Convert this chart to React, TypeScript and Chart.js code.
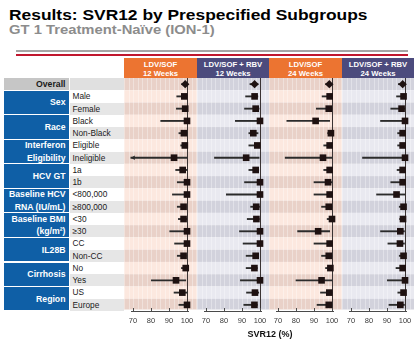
import React, { useEffect, useRef } from 'react';
import { Chart, registerables } from 'chart.js';

Chart.register(...registerables);

// ---------------- data ----------------
const rowLabels = [
  'Overall', 'Male', 'Female', 'Black', 'Non-Black', 'Eligible', 'Ineligible',
  '1a', '1b', '<800,000', '≥800,000', '<30', '≥30', 'CC', 'Non-CC', 'No', 'Yes', 'US', 'Europe',
];

const groupLabels = [
  'Sex', 'Race', 'Interferon\nEligibility', 'HCV GT', 'Baseline HCV\nRNA (IU/mL)',
  'Baseline BMI\n(kg/m²)', 'IL28B', 'Cirrhosis', 'Region',
];
const groupSizes = [2, 2, 2, 2, 2, 2, 2, 2, 2];

const panelTitles = [
  ['LDV/SOF', '12 Weeks'],
  ['LDV/SOF + RBV', '12 Weeks'],
  ['LDV/SOF', '24 Weeks'],
  ['LDV/SOF + RBV', '24 Weeks'],
];

const xTicks = [70, 80, 90, 100];
const referenceValue = 100;

// LDV/SOF 12 weeks
const ldvSof12Svr = [99, 98.5, 99, 100, 98.3, 98.8, 92.8, 97.6, 100, 100, 98.1, 98.1, 100, 100, 98.1, 99.3, 93.9, 97.4, 100];
const ldvSof12Lo = [97, 94.3, 94.1, 85.4, 95.5, 96.5, 68.8, 93.7, 94.6, 91.9, 94.6, 95.2, 90.4, 93.1, 94.6, 96.9, 80.2, 92.8, 95.5];
const ldvSof12Hi = [100, 100, 100, 100, 100, 100, 100, 100, 100, 100, 99.4, 99.8, 100, 100, 99.5, 100, 99.3, 100, 100];

// LDV/SOF + RBV 12 weeks
const ldvSofRbv12Svr = [97, 97, 97.6, 100, 96.3, 98.5, 92.3, 97.6, 100, 100, 97.9, 98, 100, 100, 97.6, 96.9, 100, 97.2, 96.9];
const ldvSofRbv12Lo = [94.4, 92, 91.4, 86.3, 93.8, 93.8, 74.7, 93.8, 91.4, 81.3, 94.8, 92.9, 88.6, 90.6, 92.3, 92.3, 89.1, 92.5, 91];
const ldvSofRbv12Hi = [98.9, 98.8, 99.5, 100, 98.9, 100, 99.5, 99.3, 100, 100, 99.7, 99.6, 100, 100, 99, 98.5, 100, 99.3, 98.5];

// LDV/SOF 24 weeks
const ldvSof24Svr = [98.5, 98.7, 98.2, 90.9, 99.4, 98.7, 95, 98.7, 97.8, 98.7, 98.2, 100, 92.3, 98.7, 98.2, 99.1, 94.2, 98.5, 98.2];
const ldvSof24Lo = [96.4, 94.5, 91.3, 74.9, 97.6, 95.4, 74, 95.4, 90, 90, 94.2, 97.3, 80.9, 90, 94.2, 96.4, 80, 93.6, 91.7];
const ldvSof24Hi = [100, 100, 100, 98.7, 100, 100, 100, 100, 100, 100, 100, 100, 98.7, 100, 100, 100, 100, 100, 100];

// LDV/SOF + RBV 24 weeks
const ldvSofRbv24Svr = [98.7, 99.2, 98.1, 100, 98.7, 98.7, 100, 98.7, 98.7, 95.3, 99.2, 98.9, 97.4, 97.2, 99.2, 98.7, 100, 99.2, 97.4];
const ldvSofRbv24Lo = [96.3, 95.3, 92.1, 86.4, 95.9, 95.9, 76.4, 95.6, 92.1, 84.2, 96.8, 97, 86.4, 90.5, 96.8, 95, 90.2, 96, 91.1];
const ldvSofRbv24Hi = [99.7, 100, 100, 100, 100, 100, 100, 100, 100, 100, 100, 100, 99.7, 99.7, 100, 100, 100, 100, 99.7];

const panelSeries = [
  { svr: ldvSof12Svr, lo: ldvSof12Lo, hi: ldvSof12Hi },
  { svr: ldvSofRbv12Svr, lo: ldvSofRbv12Lo, hi: ldvSofRbv12Hi },
  { svr: ldvSof24Svr, lo: ldvSof24Lo, hi: ldvSof24Hi },
  { svr: ldvSofRbv24Svr, lo: ldvSofRbv24Lo, hi: ldvSofRbv24Hi },
];

// ---------------- style / layout ----------------
const FONT = '"Liberation Sans", Arial, Helvetica, sans-serif';
const TOP = 78;
const AREA_H = 233;
const RH = AREA_H / rowLabels.length;
const X_MIN = 69;
const X_MAX = 101;
const PX_PER_UNIT = 1.8;
const PAD_L = 7.2;
const panelLefts = [124, 197, 269, 342];
const panelWidths = [73, 72, 73, 72];
const headerColors = ['#ec7431', '#4c4b7d', '#ec7431', '#4c4b7d'];
const orangeBands = ['#e9d1c8', '#fce8df'];
const purpleBands = ['#d2d2dc', '#e9e9f0'];
const BLUE = '#0f5fa6';
const MARK = '#1e1111';

function Panel({ index }: { index: number }) {
  const ref = useRef<HTMLCanvasElement>(null);
  const width = panelWidths[index];
  useEffect(() => {
    const canvas = ref.current;
    if (!canvas) return;
    const series = panelSeries[index];
    const bands = index % 2 === 0 ? orangeBands : purpleBands;
    const areaW = (X_MAX - X_MIN) * PX_PER_UNIT;
    const padR = width - PAD_L - areaW;

    const bgPlugin = {
      id: 'panelBg',
      beforeDraw(chart: any) {
        const { ctx, chartArea, scales } = chart;
        const y = scales.y;
        const x = scales.x;
        const step = y.getPixelForValue(1) - y.getPixelForValue(0);
        const bandBottom = chartArea.bottom - 1.5;
        ctx.save();
        rowLabels.forEach((_, i) => {
          const c = y.getPixelForValue(i);
          const t = c - step / 2;
          const b = Math.min(c + step / 2, bandBottom);
          ctx.fillStyle = i % 2 === 0 ? bands[0] : bands[1];
          ctx.fillRect(0, t, chart.width, b - t);
        });
        // faint texture grid
        ctx.strokeStyle = 'rgba(255,255,255,0.35)';
        ctx.lineWidth = 1;
        for (let v = 62.5; v <= 108; v += 2.5) {
          const px = Math.round(x.getPixelForValue(v)) + 0.5;
          if (px < 0 || px > chart.width) continue;
          ctx.beginPath();
          ctx.moveTo(px, chartArea.top);
          ctx.lineTo(px, bandBottom);
          ctx.stroke();
        }
        // reference line
        const rx = Math.round(x.getPixelForValue(referenceValue)) + 0.5;
        ctx.strokeStyle = '#3a3333';
        ctx.lineWidth = 1;
        ctx.beginPath();
        ctx.moveTo(rx, chartArea.top);
        ctx.lineTo(rx, chartArea.bottom);
        ctx.stroke();
        ctx.restore();
      },
      afterDatasetsDraw(chart: any) {
        const { ctx, scales } = chart;
        const y = scales.y;
        const x = scales.x;
        ctx.save();
        ctx.fillStyle = '#2b2b2b';
        series.lo.forEach((l, i) => {
          if (l >= xTicks[0]) return;
          const px = x.getPixelForValue(l);
          const py = y.getPixelForValue(i);
          ctx.beginPath();
          ctx.moveTo(px, py);
          ctx.lineTo(px + 4, py - 2.2);
          ctx.lineTo(px + 4, py + 2.2);
          ctx.closePath();
          ctx.fill();
        });
        ctx.restore();
      },
    };

    const chart = new Chart(canvas, {
      type: 'bar',
      data: {
        labels: rowLabels,
        datasets: [
          {
            type: 'bar',
            data: series.lo.map((l, i) => [l, series.hi[i]]),
            backgroundColor: '#2b2b2b',
            borderWidth: 0,
            barThickness: 1.2,
            clip: false,
            order: 2,
          } as any,
          {
            type: 'scatter',
            data: series.svr.map((v, i) => ({ x: v, y: rowLabels[i] })),
            pointStyle: rowLabels.map((_, i) => (i === 0 ? 'rectRot' : 'rect')),
            pointRadius: rowLabels.map((_, i) => (i === 0 ? 4.2 : 4.7)),
            backgroundColor: MARK,
            borderColor: MARK,
            borderWidth: 0,
            clip: false,
            order: 1,
          } as any,
        ],
      },
      options: {
        indexAxis: 'y',
        animation: false,
        responsive: true,
        maintainAspectRatio: false,
        events: [],
        layout: { autoPadding: false, padding: { left: PAD_L, right: padR, top: 0, bottom: 0 } },
        plugins: { legend: { display: false }, tooltip: { enabled: false } },
        scales: {
          x: {
            type: 'linear',
            position: 'bottom',
            min: X_MIN,
            max: X_MAX,
            afterBuildTicks: (s: any) => {
              s.ticks = xTicks.map((v) => ({ value: v }));
            },
            afterFit: (s: any) => {
              s.height = 20;
              s.paddingLeft = 0;
              s.paddingRight = 0;
              s.paddingTop = 0;
              s.paddingBottom = 0;
            },
            ticks: {
              font: { size: 7.5, family: FONT },
              color: '#3a3a3a',
              padding: 8.5,
              maxRotation: 0,
              autoSkip: false,
            },
            grid: { drawOnChartArea: false, drawTicks: true, tickLength: -3, color: '#4a4a4a', lineWidth: 1 },
            border: { display: true, color: '#4a4a4a', width: 1 },
          },
          y: {
            type: 'category',
            labels: rowLabels,
            offset: true,
            display: false,
            grid: { display: false },
          },
        },
      } as any,
      plugins: [bgPlugin],
    });
    return () => chart.destroy();
  }, [index, width]);

  return (
    <div style={{ position: 'absolute', left: panelLefts[index], top: TOP, width, height: AREA_H + 20 }}>
      <canvas ref={ref} />
    </div>
  );
}

export default function App() {
  let r = 1;
  const groupCells = groupLabels.map((g, gi) => {
    const start = r;
    r += groupSizes[gi];
    return (
      <div
        key={g}
        style={{
          position: 'absolute',
          left: 4,
          width: 64.5,
          top: TOP + start * RH + 0.6,
          height: groupSizes[gi] * RH - 1.2,
          background: BLUE,
          color: '#fff',
          fontWeight: 700,
          fontSize: 8.7,
          lineHeight: `${RH}px`,
          textAlign: 'right',
          display: 'flex',
          alignItems: 'center',
          justifyContent: 'flex-end',
          paddingRight: 3,
          boxSizing: 'border-box',
          whiteSpace: 'pre',
        }}
      >
        {g}
      </div>
    );
  });

  return (
    <div
      style={{
        position: 'absolute',
        left: 0,
        top: 0,
        width: 420,
        height: 342,
        background: '#fff',
        fontFamily: FONT,
        overflow: 'hidden',
      }}
    >
      <div
        style={{
          position: 'absolute', left: 9, top: 7.6, fontSize: 17.4, lineHeight: 1, fontWeight: 700,
          color: '#000', whiteSpace: 'nowrap', transform: 'scaleY(0.88)', transformOrigin: '0 0',
        }}
      >
        Results: SVR12 by Prespecified Subgroups
      </div>
      <div
        style={{
          position: 'absolute', left: 9, top: 24, fontSize: 14.8, lineHeight: 1, fontWeight: 700,
          color: '#8c8c8c', whiteSpace: 'nowrap', transform: 'scaleY(0.86)', transformOrigin: '0 0',
        }}
      >
        GT 1 Treatment-Naïve (ION-1)
      </div>
      <div style={{ position: 'absolute', left: 16, top: 49.7, width: 392, height: 2.7, background: '#a5a5a5' }} />
      <div style={{ position: 'absolute', left: 16, top: 53.5, width: 392, height: 2, background: '#c0172e' }} />

      {panelTitles.map((t, i) => (
        <div
          key={i}
          style={{
            position: 'absolute', left: panelLefts[i], top: 58.3, width: panelWidths[i], height: 19.7,
            background: headerColors[i], color: '#fff', fontWeight: 700, fontSize: 7.7, lineHeight: '9px',
            textAlign: 'center', paddingTop: 1.8, boxSizing: 'border-box', whiteSpace: 'nowrap',
          }}
        >
          {t[0]}
          <br />
          {t[1]}
        </div>
      ))}

      {/* Overall row */}
      <div
        style={{
          position: 'absolute', left: 4, width: 64.5, top: TOP, height: RH - 0.6, background: '#c6c6c6',
          color: '#1a1a1a', fontWeight: 700, fontSize: 8.7, lineHeight: `${RH}px`, textAlign: 'right',
          paddingRight: 3, boxSizing: 'border-box',
        }}
      >
        {rowLabels[0]}
      </div>
      <div style={{ position: 'absolute', left: 70, width: 54, top: TOP, height: RH - 0.6, background: '#e0e0e0' }} />
      {groupCells}
      {rowLabels.slice(1).map((l, k) => {
        const i = k + 1;
        return (
          <div
            key={l}
            style={{
              position: 'absolute', left: 70, width: 54, top: TOP + i * RH, height: RH,
              background: i % 2 === 0 ? '#e6e6e6' : '#ffffff', color: '#1a1a1a', fontSize: 8.3,
              lineHeight: `${RH}px`, paddingLeft: 2.5, boxSizing: 'border-box', whiteSpace: 'nowrap',
            }}
          >
            {l}
          </div>
        );
      })}

      {panelTitles.map((_, i) => (
        <Panel key={i} index={i} />
      ))}

      <div
        style={{
          position: 'absolute', left: 230, width: 80, top: 328.5, textAlign: 'center', fontSize: 9,
          lineHeight: '11px', fontWeight: 700, color: '#111', whiteSpace: 'nowrap',
        }}
      >
        SVR12 (%)
      </div>
    </div>
  );
}
